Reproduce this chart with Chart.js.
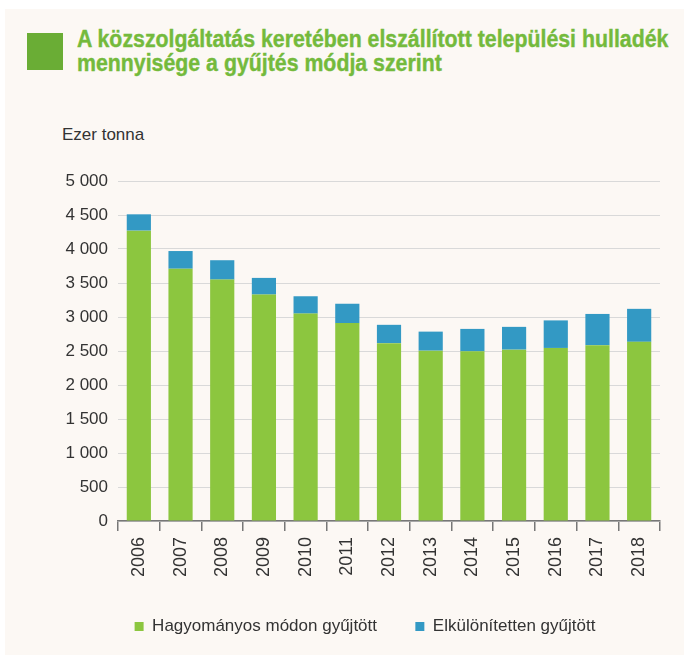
<!DOCTYPE html>
<html>
<head>
<meta charset="utf-8">
<script src="https://cdn.jsdelivr.net/npm/chart.js@4/dist/chart.umd.min.js"></script>
<style>
  body { margin: 0; background: #fff; }
  #wrap { position: absolute; left: 5px; top: 9px; width: 679px; height: 646px; background: #fcf8f4; }
  #box { position: absolute; left: 22px; top: 24px; width: 36px; height: 37px; background: #6aad35; }
  #title { position: absolute; left: 72px; top: 18px; font-family: "Liberation Sans", Arial, sans-serif; font-weight: bold; font-size: 24px; line-height: 24px; color: #74ba3c; -webkit-text-stroke: 0.4px #74ba3c; white-space: nowrap; transform: scaleX(0.888); transform-origin: 0 0; }
  #unit { position: absolute; left: 57px; top: 116px; font-family: "Liberation Sans", Arial, sans-serif; font-size: 17px; color: #333; }
</style>
</head>
<body>
<div id="wrap">
  <div id="box"></div>
  <div id="title">A közszolgáltatás keretében elszállított települési hulladék<br>mennyisége a gyűjtés módja szerint</div>
  <div id="unit">Ezer tonna</div>
</div>
<div id="cw" style="position:absolute;left:0;top:150px;width:684px;height:505px;">
  <canvas id="chart"></canvas>
</div>
<script>
const years = ['2006', '2007', '2008', '2009', '2010', '2011', '2012', '2013', '2014', '2015', '2016', '2017', '2018'];
const traditional = [4270, 3710, 3550, 3330, 3050, 2910, 2615, 2505, 2495, 2520, 2545, 2585, 2635];
const separate = [240, 260, 285, 245, 255, 285, 270, 280, 330, 335, 405, 460, 485];
const yTicks = [0, 500, 1000, 1500, 2000, 2500, 3000, 3500, 4000, 4500, 5000];

const fmt = v => String(v).replace(/\B(?=(\d{3})+(?!\d))/g, ' ');

new Chart(document.getElementById('chart'), {
    type: 'bar',
    data: {
        labels: years,
        datasets: [
            {
                label: 'Hagyományos módon gyűjtött',
                data: traditional,
                backgroundColor: '#8cc63f',
                barPercentage: 0.58,
                categoryPercentage: 1
            },
            {
                label: 'Elkülönítetten gyűjtött',
                data: separate,
                backgroundColor: '#3399c4',
                barPercentage: 0.58,
                categoryPercentage: 1
            }
        ]
    },
    options: {
        responsive: true,
        maintainAspectRatio: false,
        animation: false,
        layout: { padding: { top: 31, right: 24, bottom: 10, left: 0 } },
        plugins: {
            legend: {
                position: 'bottom',
                labels: {
                    boxWidth: 9,
                    boxHeight: 9,
                    padding: 10,
                    color: '#333',
                    font: { family: 'Liberation Sans', size: 17 },
                    generateLabels: chart => {
                        const items = Chart.defaults.plugins.legend.labels.generateLabels(chart);
                        items[0].text += '      ';
                        // invisible spacer so the legend sits a bit right of centre
                        items.unshift({ text: '         ', fillStyle: 'rgba(0,0,0,0)', strokeStyle: 'rgba(0,0,0,0)', lineWidth: 0, hidden: false, datasetIndex: -1 });
                        return items;
                    }
                },
                onClick: () => {}
            },
            tooltip: { enabled: false }
        },
        scales: {
            x: {
                stacked: true,
                border: { color: '#777', width: 1.5 },
                grid: { offset: true, drawOnChartArea: false, drawTicks: true, tickLength: 10, color: '#777', lineWidth: 1.5 },
                ticks: {
                    minRotation: 90,
                    maxRotation: 90,
                    padding: 6,
                    color: '#333',
                    font: { family: 'Liberation Sans', size: 18 }
                },
                afterFit: s => { s.height = 87; }
            },
            y: {
                stacked: true,
                min: 0,
                max: 5000,
                afterBuildTicks: s => { s.ticks = yTicks.map(v => ({ value: v })); },
                border: { display: false },
                grid: { color: '#d9d9d9', drawTicks: false },
                ticks: {
                    padding: 10,
                    color: '#333',
                    font: { family: 'Liberation Sans', size: 17 },
                    callback: v => fmt(v)
                },
                afterFit: s => { s.width = 118; }
            }
        }
    }
});
</script>
</body>
</html>
